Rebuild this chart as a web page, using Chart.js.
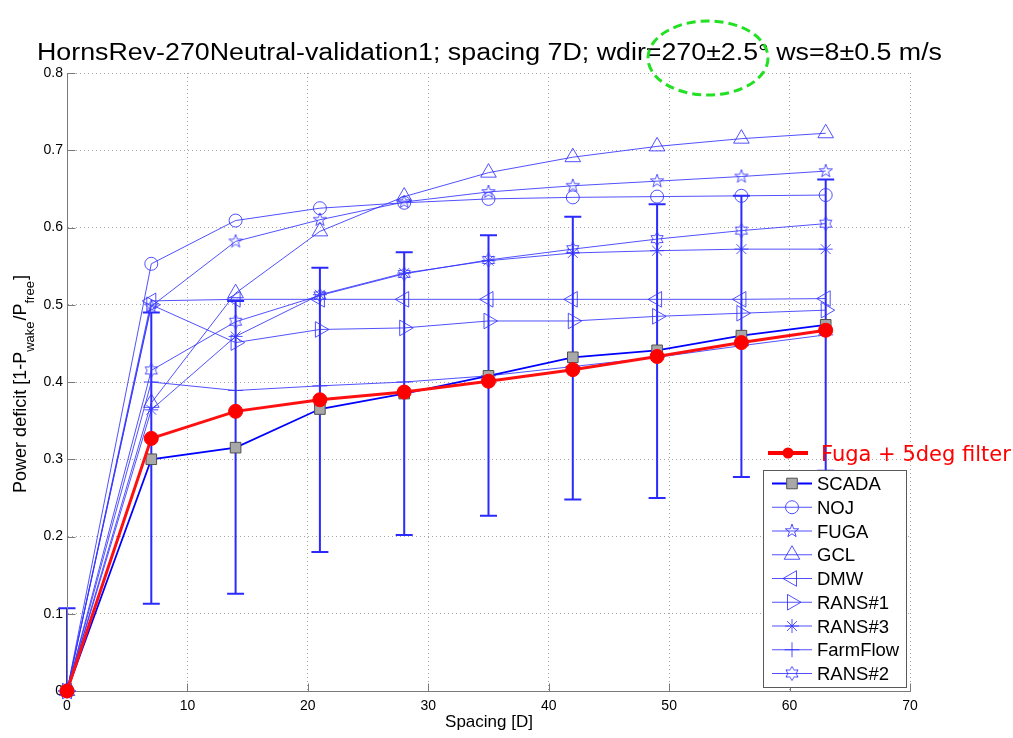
<!DOCTYPE html>
<html><head><meta charset="utf-8">
<script src="https://cdn.jsdelivr.net/npm/chart.js@4.4.1/dist/chart.umd.min.js"></script>
<style>html,body{margin:0;padding:0;background:#fff;}#wrap{width:1013px;height:738px;}</style>
</head><body><div id="wrap"><canvas id="c" width="1013" height="738"></canvas></div>
<script>
// ---------------- data ----------------
const spacing   = [0, 7, 14, 21, 28, 35, 42, 49, 56, 63];
const scada     = [0, 0.300, 0.315, 0.365, 0.385, 0.408, 0.432, 0.441, 0.460, 0.474];
const scadaLow  = [-0.107, 0.113, 0.126, 0.180, 0.202, 0.227, 0.248, 0.250, 0.277, 0.285];
const scadaHigh = [0.107, 0.490, 0.505, 0.548, 0.568, 0.590, 0.614, 0.630, 0.641, 0.662];
const noj       = [0, 0.553, 0.609, 0.625, 0.632, 0.637, 0.639, 0.640, 0.641, 0.642];
const fugaModel = [0, 0.498, 0.582, 0.610, 0.633, 0.646, 0.654, 0.660, 0.666, 0.673];
const gcl       = [0, 0.373, 0.515, 0.595, 0.640, 0.671, 0.691, 0.705, 0.715, 0.722];
const dmw       = [0, 0.505, 0.507, 0.507, 0.507, 0.507, 0.507, 0.507, 0.507, 0.508];
const rans1     = [0, 0.500, 0.451, 0.468, 0.470, 0.479, 0.479, 0.485, 0.489, 0.493];
const rans3     = [0, 0.364, 0.459, 0.513, 0.541, 0.557, 0.567, 0.570, 0.572, 0.572];
const farmFlow  = [0, 0.400, 0.389, 0.395, 0.400, 0.408, 0.420, 0.432, 0.447, 0.461];
const rans2     = [0, 0.415, 0.478, 0.512, 0.540, 0.558, 0.572, 0.585, 0.596, 0.605];
const fuga5deg  = [0, 0.327, 0.362, 0.377, 0.387, 0.401, 0.416, 0.433, 0.451, 0.467];

const seriesNames = ['SCADA','NOJ','FUGA','GCL','DMW','RANS#1','RANS#3','FarmFlow','RANS#2'];
const extraName = 'Fuga + 5deg filter';
const xTickLabels = ['0','10','20','30','40','50','60','70'];
const yTickLabels = ['0','0.1','0.2','0.3','0.4','0.5','0.6','0.7','0.8'];
const titleText = 'HornsRev-270Neutral-validation1; spacing 7D; wdir=270\u00B12.5\u00B0 ws=8\u00B10.5 m/s';
const xTitle = 'Spacing [D]';
const yTitleParts = [['Power deficit [1-P',0],['wake',1],['/P',0],['free',1],[']',0]];

// ---------------- styles ----------------
const modelColor = 'rgba(50,50,255,0.85)';
const FONT = '"Liberation Sans", Arial, Helvetica, sans-serif';

function markerCanvas(kind, color, R){
  const s = Math.ceil(2*R+4);
  const cv = document.createElement('canvas'); cv.width = s; cv.height = s;
  const g = cv.getContext('2d'); g.strokeStyle = color; g.lineWidth = 1;
  const c = s/2; g.beginPath();
  const n = kind==='star5' ? 5 : 6;
  const r2 = kind==='star5' ? R*0.4 : R/Math.sqrt(3);
  for(let k=0;k<2*n;k++){
    const a = -Math.PI/2 + k*Math.PI/n; const rr = k%2?r2:R;
    const px = c+rr*Math.cos(a), py = c+rr*Math.sin(a);
    k?g.lineTo(px,py):g.moveTo(px,py);
  }
  g.closePath(); g.stroke();
  return cv;
}

function model(label, data, style, radius, rot){
  return {label, data: data.map((v,i)=>({x:spacing[i], y:v})),
    borderColor: modelColor, borderWidth: 1, pointStyle: style, pointRadius: radius,
    pointRotation: rot||0, pointBackgroundColor: 'rgba(0,0,0,0)', pointBorderColor: modelColor,
    pointBorderWidth: 1, tension: 0, fill: false, clip: false};
}

const dsRed = {label: extraName, data: fuga5deg.map((v,i)=>({x:spacing[i], y:v})),
  borderColor: '#ff1010', borderWidth: 3, pointStyle: 'circle', pointRadius: 7,
  pointBackgroundColor: '#ff0000', pointBorderColor: '#ff0000', pointBorderWidth: 1, tension: 0, clip: false};
const dsScada = {label: 'SCADA', data: scada.map((v,i)=>({x:spacing[i], y:v})),
  borderColor: '#0000ff', borderWidth: 1.8, pointStyle: 'rect', pointRadius: 7.5,
  pointBackgroundColor: '#a8a8a8', pointBorderColor: '#505050', pointBorderWidth: 1, tension: 0, clip: false};

const models = [
  model('NOJ', noj, 'circle', 6.5),
  model('FUGA', fugaModel, markerCanvas('star5', modelColor, 7), 7),
  model('GCL', gcl, 'triangle', 9),
  model('DMW', dmw, 'triangle', 9, -90),
  model('RANS#1', rans1, 'triangle', 9, 90),
  model('RANS#3', rans3, 'star', 7),
  model('FarmFlow', farmFlow, 'cross', 7.5),
  model('RANS#2', rans2, markerCanvas('hex', modelColor, 7), 7)
];
const datasets = [dsRed, dsScada, ...models];
const legendOrder = [dsScada, ...models];

// ---------------- plugin ----------------
const decor = {
  id: 'decor',
  beforeDatasetsDraw(chart){
    const {ctx, scales:{x, y}, chartArea:a} = chart;
    ctx.save();
    ctx.beginPath(); ctx.rect(a.left-12, a.top, a.right-a.left+24, a.bottom-a.top); ctx.clip();
    ctx.strokeStyle = '#2a2aff'; ctx.lineWidth = 2;
    for(let i=0;i<spacing.length;i++){
      const px = x.getPixelForValue(spacing[i]);
      const lo = y.getPixelForValue(scadaLow[i]), hi = y.getPixelForValue(scadaHigh[i]);
      ctx.beginPath();
      ctx.moveTo(px, lo); ctx.lineTo(px, hi);
      ctx.moveTo(px-8.5, lo); ctx.lineTo(px+8.5, lo);
      ctx.moveTo(px-8.5, hi); ctx.lineTo(px+8.5, hi);
      ctx.stroke();
    }
    ctx.restore();
    // axis lines + inward ticks
    ctx.save(); ctx.strokeStyle = '#7a7a7a'; ctx.lineWidth = 1; ctx.beginPath();
    const L = Math.round(a.left)+0.5, B = Math.round(a.bottom)+0.5;
    ctx.moveTo(L, a.top); ctx.lineTo(L, B); ctx.lineTo(a.right, B);
    x.ticks.forEach(t=>{const p=Math.round(x.getPixelForValue(t.value))+0.5; ctx.moveTo(p,B); ctx.lineTo(p,B-8);});
    y.ticks.forEach(t=>{const p=Math.round(y.getPixelForValue(t.value))+0.5; ctx.moveTo(L,p); ctx.lineTo(L+8,p);});
    ctx.stroke(); ctx.restore();
  },
  afterDraw(chart){
    const {ctx} = chart;
    // title
    ctx.save();
    ctx.fillStyle = '#000'; ctx.font = '23px ' + FONT; ctx.textBaseline = 'alphabetic';
    const tw = ctx.measureText(titleText).width;
    ctx.translate(37, 59.5); ctx.scale(905/tw, 1); ctx.fillText(titleText, 0, 0);
    ctx.restore();
    // green ellipse
    ctx.save();
    ctx.strokeStyle = '#22e022'; ctx.lineWidth = 3; ctx.setLineDash([9,5]);
    ctx.beginPath(); ctx.ellipse(708, 58, 60, 37, 0, 0, Math.PI*2); ctx.stroke();
    ctx.restore();
    // x title
    ctx.save(); ctx.fillStyle = '#000'; ctx.font = '17px ' + FONT; ctx.textAlign = 'center';
    ctx.fillText(xTitle, 489, 727); ctx.restore();
    // y title with subscripts
    ctx.save(); ctx.fillStyle = '#000';
    const fMain = '18px ' + FONT, fSub = '13px ' + FONT;
    let total = 0;
    yTitleParts.forEach(([t,s])=>{ctx.font = s?fSub:fMain; total += ctx.measureText(t).width + (s?1:0);});
    ctx.translate(26, 384 + total/2); ctx.rotate(-Math.PI/2);
    let cx = 0;
    yTitleParts.forEach(([t,s])=>{ctx.font = s?fSub:fMain; ctx.fillText(t, cx, s?8:0); cx += ctx.measureText(t).width + (s?1:0);});
    ctx.restore();
    // red legend (outside box)
    ctx.save();
    ctx.strokeStyle = '#ff0000'; ctx.lineWidth = 4;
    ctx.beginPath(); ctx.moveTo(768, 453); ctx.lineTo(808, 453); ctx.stroke();
    ctx.fillStyle = '#ff0000'; ctx.beginPath(); ctx.arc(788, 453, 5.5, 0, Math.PI*2); ctx.fill();
    ctx.font = '21px "DejaVu Sans", Verdana, sans-serif'; ctx.fillText(extraName, 821, 461);
    ctx.restore();
    // legend box
    ctx.save();
    ctx.fillStyle = '#fff'; ctx.fillRect(763.5, 470.5, 143, 217);
    ctx.strokeStyle = '#5a5a5a'; ctx.lineWidth = 1; ctx.strokeRect(763.5, 470.5, 143, 217);
    legendOrder.forEach((ds, i)=>{
      const yy = 483.5 + i*23.75;
      ctx.strokeStyle = ds.borderColor; ctx.lineWidth = ds.borderWidth;
      ctx.beginPath(); ctx.moveTo(772, yy); ctx.lineTo(812, yy); ctx.stroke();
      ctx.fillStyle = ds.pointBackgroundColor; ctx.strokeStyle = ds.pointBorderColor; ctx.lineWidth = ds.pointBorderWidth;
      Chart.helpers.drawPoint(ctx, {pointStyle: ds.pointStyle, rotation: ds.pointRotation||0, radius: ds.pointRadius, borderWidth: ds.pointBorderWidth}, 792, yy);
      ctx.fillStyle = '#000'; ctx.font = '18.5px ' + FONT; ctx.textBaseline = 'alphabetic';
      ctx.fillText(ds.label, 817, yy + 6.5);
    });
    ctx.restore();
  }
};

const gridCommon = {color: '#a4a4a4', lineWidth: 1, drawTicks: false};
new Chart(document.getElementById('c'), {
  type: 'line',
  data: {datasets},
  options: {
    responsive: false, devicePixelRatio: 1, animation: false,
    layout: {padding: {top: 73, right: 103, left: 0, bottom: 0}},
    plugins: {legend: {display: false}, tooltip: {enabled: false}, title: {display: false}},
    scales: {
      x: {type: 'linear', min: 0, max: 70,
        afterFit: s => { s.height = 47; },
        afterBuildTicks: s => { s.ticks = xTickLabels.map(v=>({value: Number(v)})); },
        ticks: {padding: 7, color: '#000', font: {family: FONT, size: 14}, maxRotation: 0,
          callback: (v, i) => xTickLabels[i]},
        grid: gridCommon, border: {display: true, color: '#7a7a7a', width: 1, dash: [1,3]}},
      y: {type: 'linear', min: 0, max: 0.8,
        afterFit: s => { s.width = 67; },
        afterBuildTicks: s => { s.ticks = yTickLabels.map(v=>({value: Number(v)})); },
        ticks: {padding: 4, color: '#000', font: {family: FONT, size: 14},
          callback: (v, i) => yTickLabels[i]},
        grid: gridCommon, border: {display: true, color: '#7a7a7a', width: 1, dash: [1,3]}}
    }
  },
  plugins: [decor]
});
</script></body></html>
